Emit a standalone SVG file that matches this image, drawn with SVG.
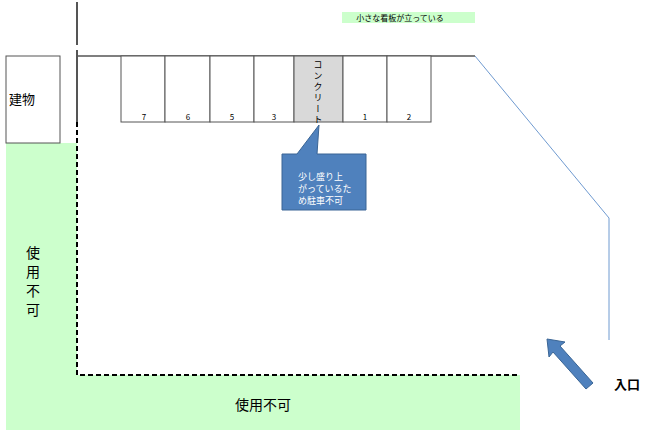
<svg xmlns="http://www.w3.org/2000/svg" width="648" height="433" viewBox="0 0 648 433">
<style>
text{font-family:"Noto Sans CJK JP","Liberation Sans",sans-serif;fill:#000}
.slot{fill:#fff;stroke:#555;stroke-width:1}
.num{font-size:8px;text-anchor:middle}
</style>
<rect width="648" height="433" fill="#fff"/>
<g id="unusable">
<path d="M6 143H77V375H520V430H6Z" fill="#ccffcc"/>
<text x="33" y="258" font-size="14" text-anchor="middle">使</text>
<text x="33" y="277" font-size="14" text-anchor="middle">用</text>
<text x="33" y="296" font-size="14" text-anchor="middle">不</text>
<text x="33" y="315" font-size="14" text-anchor="middle">可</text>
<text x="263" y="410" font-size="14" text-anchor="middle">使用不可</text>
</g>
<g id="building">
<rect x="6" y="56" width="54" height="87" fill="#fff" stroke="#555"/>
<text x="9" y="104" font-size="13">建物</text>
</g>
<g id="sign">
<rect x="342" y="12" width="133" height="11" fill="#ccffcc"/>
<text x="400" y="21" font-size="8" text-anchor="middle">小さな看板が立っている</text>
</g>
<g id="connectors" fill="none">
<path d="M77 2V45M77 50V122" stroke="#555" stroke-width="2"/>
<path d="M77 122V375H520" stroke="#000" stroke-width="2" stroke-dasharray="5,3"/>
<path d="M77 56H475" stroke="#555" stroke-width="1.5"/>
<path d="M475 56L609 218V340" stroke="#6f9ad0" stroke-width="1"/>
</g>
<g id="slots">
<rect class="slot" x="121" y="56" width="44" height="66"/>
<rect class="slot" x="165" y="56" width="45" height="66"/>
<rect class="slot" x="210" y="56" width="44" height="66"/>
<rect class="slot" x="254" y="56" width="40" height="66"/>
<rect x="294" y="56" width="49" height="66" fill="#d9d9d9" stroke="#555"/>
<rect class="slot" x="343" y="56" width="44" height="66"/>
<rect class="slot" x="387" y="56" width="44" height="66"/>
<text class="num" x="144" y="120">7</text>
<text class="num" x="188" y="120">6</text>
<text class="num" x="232" y="120">5</text>
<text class="num" x="274" y="120">3</text>
<text class="num" x="365" y="120">1</text>
<text class="num" x="409" y="120">2</text>
<text x="318" y="60" font-size="9" writing-mode="vertical-rl" letter-spacing="2">コンクリート</text>
</g>
<g id="callout">
<path d="M282 154H297L319 125L317 154H366V210H282Z" fill="#4f81bd" stroke="#3a6595"/>
<text x="298" y="180" font-size="9" fill="#fff" style="fill:#fff">少し盛り上</text>
<text x="298" y="192" font-size="9" style="fill:#fff">がっているた</text>
<text x="298" y="204" font-size="9" style="fill:#fff">め駐車不可</text>
</g>
<g id="entrance">
<path d="M547 339L565 342L560 346L593 383L586 389L553 352L549 357Z" fill="#4f81bd" stroke="#3a6595"/>
<text x="614" y="389" font-size="13" font-weight="bold">入口</text>
</g>
</svg>
